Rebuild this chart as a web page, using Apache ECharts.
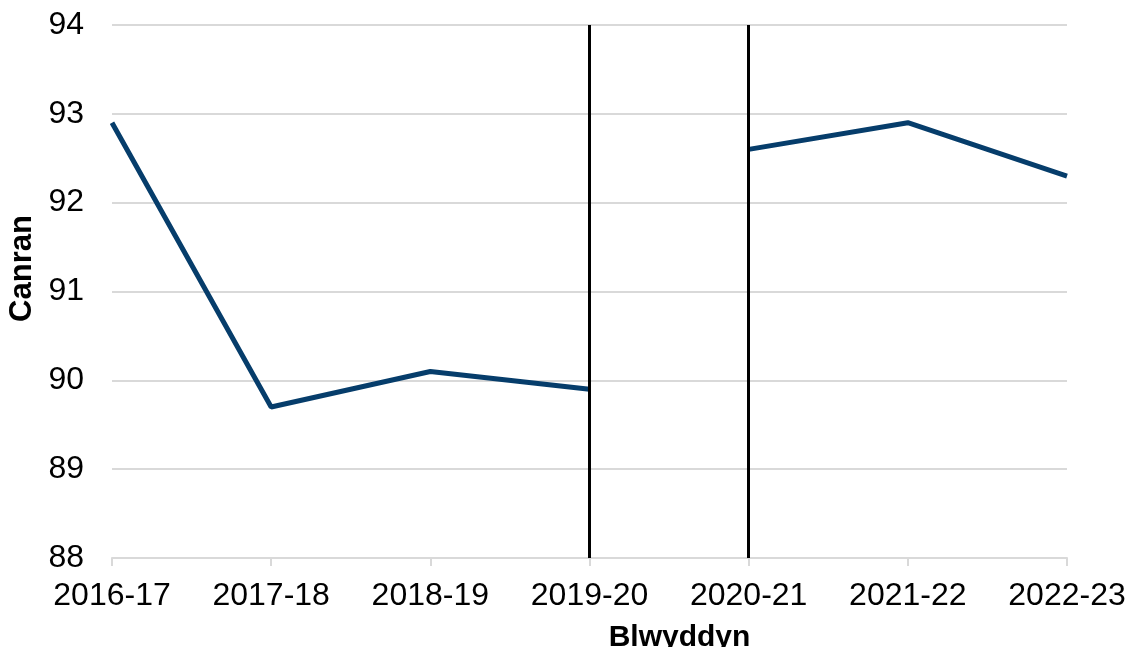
<!DOCTYPE html>
<html>
<head>
<meta charset="utf-8">
<script src="https://cdn.jsdelivr.net/npm/echarts@6/dist/echarts.min.js"></script>
<style>
  html, body { margin: 0; padding: 0; background: #fff; }
  #chart { width: 1127px; height: 647px; }
</style>
</head>
<body>
<div id="chart"></div>
<script>
// blynyddoedd a chanran
var years = ['2016-17', '2017-18', '2018-19', '2019-20', '2020-21', '2021-22', '2022-23'];
var canran = [92.9, 89.7, 90.1, 89.9, 92.6, 92.9, 92.3];
// the series breaks after this year (change in method)
var breakYears = ['2019-20', '2020-21'];
var yTicks = { min: 88, max: 94, step: 1 };

var cut = years.indexOf(breakYears[0]);
var before = canran.map(function (v, i) { return i <= cut ? v : null; });
var after = canran.map(function (v, i) { return i > cut ? v : null; });

var chart = echarts.init(document.getElementById('chart'));

var lineStyle = { color: '#063d6b', width: 5, cap: 'butt' };

var option = {
  animation: false,
  grid: { left: 112, right: 60, top: 25, bottom: 89, outerBoundsMode: 'none', containLabel: false },
  xAxis: {
    type: 'category',
    data: years,
    boundaryGap: false,
    name: 'Blwyddyn',
    nameLocation: 'middle',
    nameGap: 65,
    nameTextStyle: {
      fontFamily: 'Liberation Sans', fontSize: 30, fontWeight: 'bold', color: '#000',
      padding: [0, 0, 0, 180]
    },
    axisLine: { lineStyle: { color: '#d9d9d9', width: 2 } },
    axisTick: { show: true, length: 8, lineStyle: { color: '#d9d9d9', width: 2 } },
    axisLabel: { fontFamily: 'Liberation Sans', fontSize: 32, color: '#000', margin: 22 }
  },
  yAxis: {
    type: 'value',
    min: yTicks.min,
    max: yTicks.max,
    interval: yTicks.step,
    name: 'Canran',
    nameLocation: 'middle',
    nameGap: 72,
    nameRotate: 90,
    nameTextStyle: {
      fontFamily: 'Liberation Sans', fontSize: 31, fontWeight: 'bold', color: '#000',
      padding: [0, 0, 0, 46]
    },
    axisLine: { show: false },
    axisTick: { show: false },
    axisLabel: { fontFamily: 'Liberation Sans', fontSize: 32, color: '#000', margin: 28 },
    splitLine: { lineStyle: { color: '#d9d9d9', width: 2 } }
  },
  series: [
    {
      type: 'line',
      data: before,
      symbol: 'none',
      lineStyle: lineStyle,
      markLine: {
        silent: true,
        symbol: 'none',
        label: { show: false },
        lineStyle: { color: '#000', width: 3, type: 'solid' },
        data: breakYears.map(function (y) {
          return [{ xAxis: y, yAxis: yTicks.min }, { xAxis: y, yAxis: yTicks.max }];
        })
      }
    },
    {
      type: 'line',
      data: after,
      symbol: 'none',
      lineStyle: lineStyle
    }
  ]
};

chart.setOption(option);
window.onresize = chart.resize;
</script>
</body>
</html>
